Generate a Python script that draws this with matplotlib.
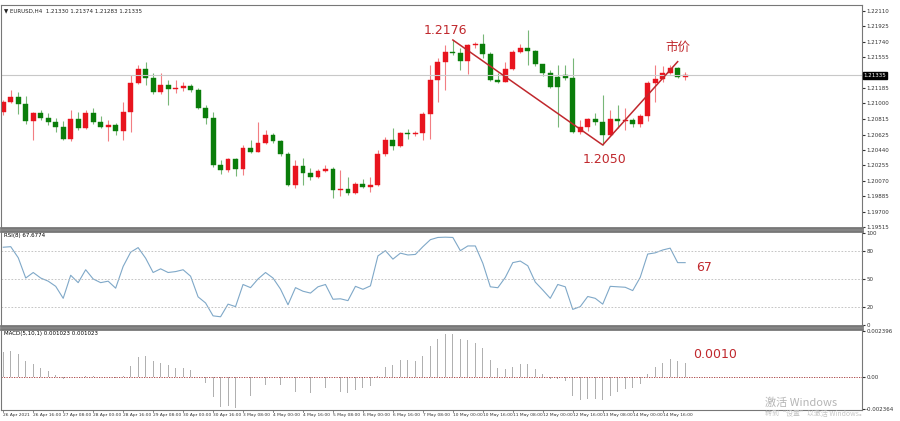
import matplotlib
matplotlib.use("Agg")
import matplotlib.pyplot as plt
import numpy as np

plt.rcParams['font.family'] = ['DejaVu Sans', 'Noto Sans CJK SC']

closes = [1.2102,1.2108,1.2099,1.2079,1.2088,1.2082,1.2078,1.2072,1.2057,1.2081,
          1.2070,1.2088,1.2078,1.2072,1.2074,1.2067,1.2090,1.2124,1.2141,1.2130,
          1.2114,1.2122,1.2117,1.2118,1.2121,1.2116,1.2094,1.2082,1.2026,1.2020,
          1.2033,1.2021,1.2046,1.2042,1.2052,1.2062,1.2055,1.2039,1.2002,1.2025,
          1.2016,1.2012,1.2019,1.2021,1.1996,1.1997,1.1992,1.2003,1.2000,1.2002,
          1.2039,1.2056,1.2049,1.2064,1.2063,1.2064,1.2087,1.2128,1.2150,1.2162,
          1.2160,1.2151,1.2170,1.2171,1.2159,1.2128,1.2126,1.2141,1.2162,1.2166,
          1.2163,1.2147,1.2136,1.2120,1.2120,1.2130,1.2066,1.2072,1.2081,1.2078,
          1.2062,1.2081,1.2079,1.2080,1.2075,1.2085,1.2124,1.2129,1.2136,1.2142,
          1.2132,1.21335]
opens = [1.2090] + closes[:-1]
opens[74] = 1.2132
opens[75] = 1.2134
highs = [1.2104,1.2116,1.2114,1.2109,1.2090,1.2092,1.2088,1.2082,1.2079,1.2092,
         1.2090,1.2092,1.2094,1.2085,1.2080,1.2076,1.2102,1.2134,1.2146,1.2150,
         1.2136,1.2136,1.2128,1.2128,1.2126,1.2123,1.2118,1.2098,1.2090,1.2032,
         1.2034,1.2034,1.2050,1.2056,1.2078,1.2068,1.2064,1.2056,1.2042,1.2032,
         1.2034,1.2022,1.2021,1.2026,1.2024,1.2020,1.2012,1.2006,1.2009,1.2012,
         1.2044,1.2060,1.2070,1.2066,1.2069,1.2067,1.2090,1.2146,1.2154,1.2170,
         1.2176,1.2166,1.2171,1.2174,1.2183,1.2162,1.2136,1.2150,1.2164,1.2171,
         1.2188,1.2164,1.2147,1.2140,1.2146,1.2146,1.2154,1.2080,1.2082,1.2088,
         1.2110,1.2092,1.2098,1.2094,1.2082,1.2087,1.2127,1.2146,1.2145,1.2146,
         1.2144,1.21374]
lows = [1.2086,1.2100,1.2087,1.2075,1.2056,1.2080,1.2074,1.2066,1.2056,1.2055,
        1.2068,1.2069,1.2075,1.2070,1.2055,1.2062,1.2056,1.2066,1.2123,1.2122,
        1.2111,1.2111,1.2098,1.2112,1.2115,1.2114,1.2093,1.2075,1.2024,1.2015,
        1.2018,1.2013,1.2014,1.2040,1.2042,1.2051,1.2052,1.2037,1.2001,1.1998,
        1.2002,1.2008,1.2010,1.2018,1.1986,1.1989,1.1990,1.1991,1.1998,1.1994,
        1.2001,1.2037,1.2044,1.2048,1.2057,1.2061,1.2056,1.2057,1.2102,1.2116,
        1.2158,1.2140,1.2135,1.2166,1.2154,1.2127,1.2124,1.2126,1.2140,1.2160,
        1.2146,1.2145,1.2133,1.2118,1.2072,1.2128,1.2064,1.2063,1.2067,1.2074,
        1.2050,1.2061,1.2070,1.2068,1.2072,1.2072,1.2079,1.2102,1.2126,1.2135,
        1.2130,1.21283]
rsi = [84.4,85,73,51,57,51,47.6,42,29,54,
       46,60,50,46,47.6,40,63.6,79,84,72.5,
       57,61,57,58,60,53,30.6,24,10,9,
       22.7,20,44,40.6,50,57,51,39,22,40.6,
       36.7,34.7,41.5,44,28,28.5,26.5,42,38.8,42.5,
       75,80.7,71.5,78,76,76.6,85,92.6,95,95.3,
       95,80.7,85.8,85.8,67,41.5,40.5,51.7,67.7,69.4,
       64.3,46.6,38,29,44,41.5,17,20,31,29,
       22.7,42,41.5,41,37.4,51.7,77,78.3,81.4,83.4,
       67.7,67.7]
macd = [0.00124,0.00129,0.00112,0.00077,0.00065,0.00044,0.00026,0.00009,-0.00012,-0.00003,
        -0.00003,0.00005,0.00005,-0.00003,-0.00003,-0.00008,0.00005,0.00053,0.00099,0.00102,
        0.00078,0.00071,0.00058,0.00044,0.00043,0.00031,-0.00003,-0.00032,-0.00105,-0.00151,
        -0.00150,-0.00156,-0.00088,-0.00097,-0.00068,-0.00041,-0.00029,-0.00041,-0.00080,-0.00075,
        -0.00080,-0.00080,-0.00068,-0.00058,-0.00075,-0.00077,-0.00080,-0.00068,-0.00058,-0.00049,
        0.00002,0.00048,0.00060,0.00082,0.00082,0.00078,0.00102,0.00152,0.00189,0.00215,
        0.00215,0.00189,0.00186,0.00172,0.00142,0.00083,0.00042,0.00037,0.00051,0.00066,
        0.00066,0.00037,0.00012,-0.00014,-0.00014,-0.00022,-0.00095,-0.00120,-0.00112,-0.00115,
        -0.00118,-0.00095,-0.00078,-0.00064,-0.00056,-0.00039,0.00012,0.00049,0.00071,0.00088,
        0.00079,0.00071]

date_labels = ["26 Apr 2021","26 Apr 16:00","27 Apr 08:00","28 Apr 00:00","28 Apr 16:00",
               "29 Apr 08:00","30 Apr 00:00","30 Apr 16:00","3 May 08:00","4 May 00:00",
               "4 May 16:00","5 May 08:00","6 May 00:00","6 May 16:00","7 May 08:00",
               "10 May 00:00","10 May 16:00","11 May 08:00","12 May 00:00","12 May 16:00",
               "13 May 08:00","14 May 00:00","14 May 16:00"]
price_ticks = [1.22110,1.21925,1.21740,1.21555,1.21185,1.21000,1.20815,1.20625,
               1.20440,1.20255,1.20070,1.19885,1.19700,1.19515]
current_price = 1.21335
swing_idx = [60, 80, 90]
swing_px = [1.2176, 1.2050, 1.2150]

n = len(closes)
c = np.array(closes); o = np.array(opens); h = np.array(highs); l = np.array(lows)
x = np.arange(n)

RED = '#e8141e'; GREEN = '#0a7d0a'; ANN = '#c0282d'
fig = plt.figure(figsize=(9, 4.21), dpi=100)
W, H = 900, 421
def ax_at(top, bot):
    return fig.add_axes([1/W, 1-bot/H, 861/W, (bot-top)/H])
ax1 = ax_at(5, 228); ax2 = ax_at(231, 326); ax3 = ax_at(329, 410)
xl = (-0.3, 114.6)
for a in (ax1, ax2, ax3):
    a.set_xlim(*xl)
    a.set_xticks([])
    a.yaxis.tick_right()
    a.tick_params(axis='y', labelsize=4, length=2, pad=1, colors='#333333')
    for s in a.spines.values():
        s.set_color('#777777'); s.set_linewidth(0.8)
ax1.spines['bottom'].set_linewidth(2); ax2.spines['bottom'].set_linewidth(2)
ax2.spines['top'].set_linewidth(2); ax3.spines['top'].set_linewidth(2)

# candles
for i in range(n):
    col = RED if c[i] >= o[i] else GREEN
    ax1.vlines(i, l[i], h[i], color=col, lw=0.8, alpha=0.55)
    bot = min(o[i], c[i]); ht = max(abs(c[i]-o[i]), 0.00003)
    ax1.bar(i, ht, bottom=bot, width=0.65, color=col, edgecolor=col, lw=0.3)
ax1.set_ylim(1.19504, 1.2218)
ax1.set_yticks(price_ticks)
ax1.set_yticklabels([f"{v:.5f}" for v in price_ticks])
ax1.axhline(current_price, color='#c8c8c8', lw=0.8)
ax1.text(1.002, current_price, f"{current_price:.5f}", transform=ax1.get_yaxis_transform(),
         fontsize=4, color='white', va='center', ha='left',
         bbox=dict(boxstyle='square,pad=0.15', fc='black', ec='black'))
ax1.text(0.004, 0.985, "\u25bc EURUSD,H4  1.21330 1.21374 1.21283 1.21335",
         transform=ax1.transAxes, fontsize=4, va='top', color='#222222')
ax1.plot(swing_idx, swing_px, color=ANN, lw=1.1)
ax1.text(59, 1.2187, "1.2176", color=ANN, fontsize=9, ha='center', va='center')
ax1.text(80.3, 1.2032, "1.2050", color=ANN, fontsize=9, ha='center', va='center')
ax1.text(90, 1.2167, "市价", color=ANN, fontsize=9, ha='center', va='center',
         family=['Noto Sans CJK SC'])

# RSI
ax2.plot(x, rsi, color='#7fa8c8', lw=0.8)
for lv in (80, 50, 20):
    ax2.axhline(lv, color='#bbbbbb', lw=0.6, ls=(0, (2, 2)))
ax2.set_ylim(-1, 102)
ax2.set_yticks([100, 80, 50, 20, 0])
ax2.text(0.004, 0.98, "RSI(8) 67.6774", transform=ax2.transAxes, fontsize=4, va='top')
ax2.text(92.5, 62, "67", color=ANN, fontsize=9, ha='left', va='center')

# MACD
ax3.bar(x, macd, width=0.12, color='#b0b0b0')
ax3.axhline(0, color='#a03030', lw=0.6, ls=(0, (1.5, 1.5)))
ax3.set_ylim(-0.00168, 0.0024)
ax3.set_yticks([0.0023, 0.0, -0.00162])
ax3.set_yticklabels(["0.002396", "0.00", "-0.002364"])
ax3.text(0.004, 0.98, "MACD(5,10,1) 0.001023 0.001023", transform=ax3.transAxes,
         fontsize=4, va='top')
ax3.text(92, 0.0011, "0.0010", color=ANN, fontsize=9, ha='left', va='center')

# date labels
for k, lab in enumerate(date_labels):
    xi = 4*k
    px = (xi - xl[0]) / (xl[1]-xl[0]) * 861 + 1
    fig.text(px/W, 1-415/H, lab, fontsize=3.2, ha='left', va='center', color='#333333')
    ax3.axvline(xi, ymin=-0.03, ymax=0, color='#555555', lw=0.5, clip_on=False)

fig.text(765/W, 1-403/H, "激活 Windows", fontsize=8, color='#b5b5b5',
         family=['Noto Sans CJK SC', 'DejaVu Sans'], va='center')
fig.text(765/W, 1-414/H, "转到“设置”以激活 Windows。", fontsize=5, color='#c5c5c5',
         family=['Noto Sans CJK SC', 'DejaVu Sans'], va='center')

fig.savefig("out.png", dpi=100)
